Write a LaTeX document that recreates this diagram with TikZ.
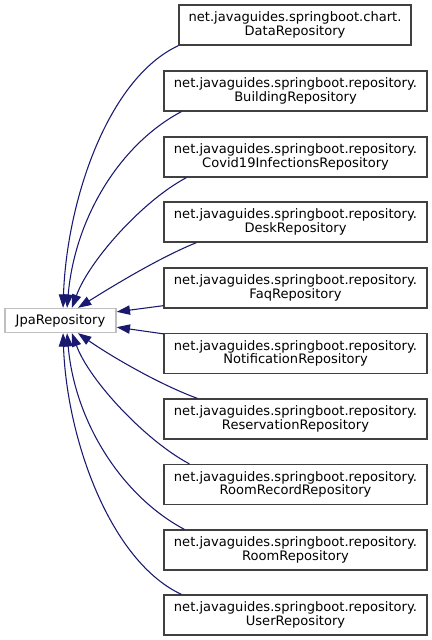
\documentclass[tikz,border=0pt]{standalone}
\usepackage{fontspec}
\setmainfont{DejaVu Sans}
\usetikzlibrary{arrows.meta}
\definecolor{edgeblue}{HTML}{191970}
\definecolor{basegrey}{HTML}{BFBFBF}
\definecolor{boxgrey}{HTML}{404040}

\begin{document}
\begin{tikzpicture}[x=0.75pt, y=0.75pt,
    every node/.style={font=\fontsize{9.8}{10}\selectfont, align=center, inner sep=0pt},
    repo/.style={draw=boxgrey, fill=white, line width=1pt, minimum width=197.25pt, minimum height=30pt},
    base/.style={draw=basegrey, fill=white, line width=1pt, minimum width=83.25pt, minimum height=18pt},
    inherit/.style={edgeblue, line width=0.8pt, -{Triangle[length=10pt, width=7pt]}}]
  \fill[white] (0,0) rectangle (432,-640);
  \useasboundingbox (0,0) rectangle (432,-640);

  % base class
  \node[base] (jpa) at (60.5,-320.5) {JpaRepository};

  % derived repositories
  \node[repo, minimum width=174pt] (data) at (295,-25) {net.javaguides.springboot.chart.\\DataRepository};
  \node[repo] (building) at (295.5,-91) {net.javaguides.springboot.repository.\\BuildingRepository};
  \node[repo] (covid) at (295.5,-157) {net.javaguides.springboot.repository.\\Covid19InfectionsRepository};
  \node[repo] (desk) at (295.5,-222) {net.javaguides.springboot.repository.\\DeskRepository};
  \node[repo] (faq) at (295.5,-288) {net.javaguides.springboot.repository.\\FaqRepository};
  \node[repo] (notification) at (295.5,-353.5) {net.javaguides.springboot.repository.\\NotificationRepository};
  \node[repo] (reservation) at (295.5,-419) {net.javaguides.springboot.repository.\\ReservationRepository};
  \node[repo] (roomrecord) at (295.5,-484.5) {net.javaguides.springboot.repository.\\RoomRecordRepository};
  \node[repo] (room) at (295.5,-550) {net.javaguides.springboot.repository.\\RoomRepository};
  \node[repo] (user) at (295.5,-615) {net.javaguides.springboot.repository.\\UserRepository};

  % inheritance edges, upper half
  \draw[inherit] (data.south west) .. controls +(205:78) and +(88:107) .. ([xshift=1.9pt]jpa.north);
  \draw[inherit] ([xshift=13.5pt]building.south west) .. controls +(208:70) and +(85:90) .. ([xshift=4.9pt]jpa.north);
  \draw[inherit] ([xshift=17.25pt]covid.south west) .. controls +(208:50) and +(70:50) .. ([xshift=8.6pt]jpa.north);
  \draw[inherit] ([xshift=24.75pt]desk.south west) .. controls +(202:40) and +(32:40) .. ([xshift=13.1pt]jpa.north);
  \draw[inherit] ([yshift=2.25pt]faq.south west) -- ([yshift=6.5pt]jpa.east);

  % inheritance edges, lower half
  \draw[inherit] ([yshift=-0.75pt]notification.north west) -- ([yshift=-5pt]jpa.east);
  \draw[inherit] ([xshift=25.5pt]reservation.north west) .. controls +(160:40) and +(-35:40) .. ([xshift=13.1pt]jpa.south);
  \draw[inherit] ([xshift=19.5pt]roomrecord.north west) .. controls +(152:50) and +(-70:50) .. ([xshift=8.6pt]jpa.south);
  \draw[inherit] ([xshift=15.75pt]room.north west) .. controls +(152:70) and +(-85:90) .. ([xshift=4.9pt]jpa.south);
  \draw[inherit] ([xshift=13.5pt]user.north west) .. controls +(155:78) and +(-88:107) .. ([xshift=1.9pt]jpa.south);
\end{tikzpicture}
\end{document}
